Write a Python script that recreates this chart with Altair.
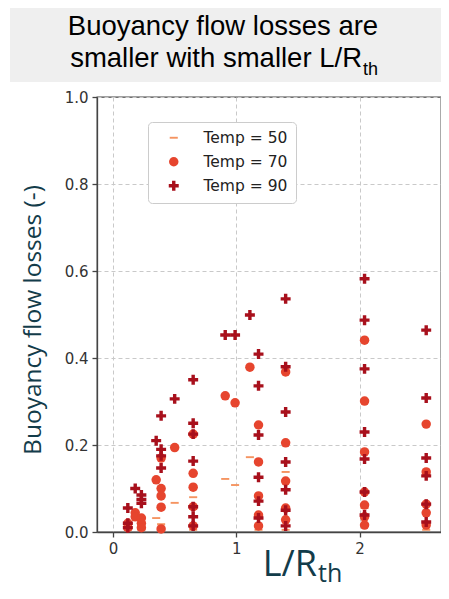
import altair as alt
import pandas as pd

# ---- data ----
labels = ["Temp = 50", "Temp = 70", "Temp = 90"]

t50_x = [0.12, 0.23, 0.35, 0.39, 0.50, 0.65, 0.65, 0.91, 0.99, 1.11, 1.18, 1.40, 1.40, 2.04, 2.54]
t50_y = [0.005, 0.005, 0.032, 0.018, 0.067, 0.080, 0.005, 0.122, 0.108, 0.172, 0.005, 0.138, 0.005, 0.055, 0.005]

t70_x = [0.12, 0.12, 0.18, 0.18, 0.23, 0.23, 0.23, 0.35,
         0.39, 0.39, 0.39, 0.39, 0.39, 0.50,
         0.65, 0.65, 0.65, 0.65, 0.65, 0.91, 0.99, 1.11,
         1.18, 1.18, 1.18, 1.18, 1.18,
         1.40, 1.40, 1.40, 1.40, 1.40,
         2.04, 2.04, 2.04, 2.04, 2.04, 2.04, 2.04,
         2.54, 2.54, 2.54, 2.54, 2.54]
t70_y = [0.020, 0.010, 0.044, 0.035, 0.032, 0.020, 0.010, 0.120,
         0.170, 0.100, 0.083, 0.057, 0.007, 0.194,
         0.225, 0.135, 0.103, 0.058, 0.014, 0.313, 0.297, 0.379,
         0.246, 0.161, 0.083, 0.039, 0.014,
         0.368, 0.205, 0.117, 0.055, 0.028,
         0.441, 0.301, 0.184, 0.092, 0.062, 0.035, 0.016,
         0.248, 0.138, 0.064, 0.044, 0.016]

t90_x = [0.12, 0.12, 0.12, 0.18, 0.23, 0.23, 0.23, 0.35,
         0.39, 0.39, 0.39, 0.39, 0.50,
         0.65, 0.65, 0.65, 0.65, 0.65, 0.65, 0.65, 0.91, 0.99, 1.11,
         1.18, 1.18, 1.18, 1.18, 1.18, 1.18,
         1.40, 1.40, 1.40, 1.40, 1.40, 1.40, 1.40,
         2.04, 2.04, 2.04, 2.04, 2.04, 2.04, 2.04,
         2.54, 2.54, 2.54, 2.54, 2.54, 2.54]
t90_y = [0.055, 0.020, 0.010, 0.100, 0.085, 0.075, 0.066, 0.210,
         0.267, 0.190, 0.175, 0.147, 0.306,
         0.350, 0.250, 0.225, 0.163, 0.058, 0.035, 0.014, 0.453, 0.453, 0.499,
         0.409, 0.336, 0.223, 0.126, 0.071, 0.032,
         0.536, 0.380, 0.276, 0.161, 0.097, 0.050, 0.014,
         0.582, 0.487, 0.375, 0.230, 0.168, 0.092, 0.039,
         0.464, 0.308, 0.170, 0.129, 0.064, 0.023]

x_ticks = [0, 1, 2]
y_ticks = [0.0, 0.2, 0.4, 0.6, 0.8, 1.0]

colors = ["#f59461", "#e6452e", "#a8101c"]
dash_path = "M-0.85,-0.2H0.85V0.2H-0.85Z"
plus_path = ("M-1.05,-0.36H-0.36V-1.05H0.36V-0.36H1.05V0.36H0.36V1.05"
             "H-0.36V0.36H-1.05Z")
shapes = [dash_path, "circle", plus_path]

rows = []
for lab, xs, ys in zip(labels, [t50_x, t70_x, t90_x], [t50_y, t70_y, t90_y]):
    for a, b in zip(xs, ys):
        rows.append({"x": a, "y": b, "temp": lab})
df = pd.DataFrame(rows)

teal = "#133c4a"
axis_common = dict(
    grid=True, gridColor="#c9c9c9", gridDash=[4, 3], gridWidth=1,
    domainColor="#444", domainWidth=1.3, tickColor="#444", tickWidth=1.3,
    tickSize=5, labelColor="#333", labelFont="DejaVu Sans", labelFontSize=15,
    labelPadding=4, title=None,
)

points = alt.Chart(df).mark_point(filled=True, opacity=1, size=90, strokeWidth=0).encode(
    x=alt.X("x:Q", scale=alt.Scale(domain=[-0.13, 2.66], nice=False, zero=False),
            axis=alt.Axis(values=x_ticks, format="d", **axis_common)),
    y=alt.Y("y:Q", scale=alt.Scale(domain=[0, 1], nice=False, zero=False),
            axis=alt.Axis(values=y_ticks, format=".1f", **axis_common)),
    color=alt.Color("temp:N", scale=alt.Scale(domain=labels, range=colors),
                    legend=alt.Legend(title=None)),
    shape=alt.Shape("temp:N", scale=alt.Scale(domain=labels, range=shapes),
                    legend=alt.Legend(title=None)),
)

# decorations (slide title box and axis titles)
title_box = alt.Chart(pd.DataFrame({"k": [0]})).mark_rect(color="#efefef").encode(
    x=alt.value(-87), x2=alt.value(346), y=alt.value(-97), y2=alt.value(-15)
)

title1 = alt.Chart(pd.DataFrame({"t": ["Buoyancy flow losses are"]})).mark_text(
    font="Liberation Sans", fontSize=27.5, color="#000", align="center", baseline="alphabetic"
).encode(text="t:N", x=alt.value(126), y=alt.value(-62))

title2 = alt.Chart(pd.DataFrame({"t": ["smaller with smaller L/R"]})).mark_text(
    font="Liberation Sans", fontSize=27.5, color="#000", align="right", baseline="alphabetic"
).encode(text="t:N", x=alt.value(265), y=alt.value(-30))

title2_sub = alt.Chart(pd.DataFrame({"t": ["th"]})).mark_text(
    font="Liberation Sans", fontSize=18, color="#000", align="left", baseline="alphabetic"
).encode(text="t:N", x=alt.value(266), y=alt.value(-22))

ytitle = alt.Chart(pd.DataFrame({"t": ["Buoyancy flow losses (-)"]})).mark_text(
    font="Open Sans", fontSize=24.5, color=teal, angle=270, align="center", baseline="middle"
).encode(text="t:N", x=alt.value(-63), y=alt.value(223))

xtitle = alt.Chart(pd.DataFrame({"t": ["L/R"]})).mark_text(
    font="Open Sans", fontSize=36, color=teal, align="right", baseline="alphabetic"
).encode(text="t:N", x=alt.value(220), y=alt.value(479))

xtitle_sub = alt.Chart(pd.DataFrame({"t": ["th"]})).mark_text(
    font="Open Sans", fontSize=25, color=teal, align="left", baseline="alphabetic"
).encode(text="t:N", x=alt.value(221), y=alt.value(485))

chart = alt.layer(
    title_box, points, title1, title2, title2_sub, ytitle, xtitle, xtitle_sub
).properties(
    width=344, height=435,
    padding={"left": 89, "top": 89, "right": 0, "bottom": 59},
    autosize=alt.AutoSizeParams(type="none"),
    background="white",
).configure_view(
    stroke="#444", strokeWidth=1.3, fill="white"
).configure_legend(
    orient="none", legendX=51, legendY=25, fillColor="white", strokeColor="#cccccc",
    cornerRadius=4, padding=8, rowPadding=7, symbolOffset=10, labelOffset=22,
    labelFont="DejaVu Sans", labelFontSize=15.5, labelColor="#222", symbolSize=90,
    symbolStrokeWidth=0,
)

chart.save("out.html", embed_options={"renderer": "svg", "actions": False})
